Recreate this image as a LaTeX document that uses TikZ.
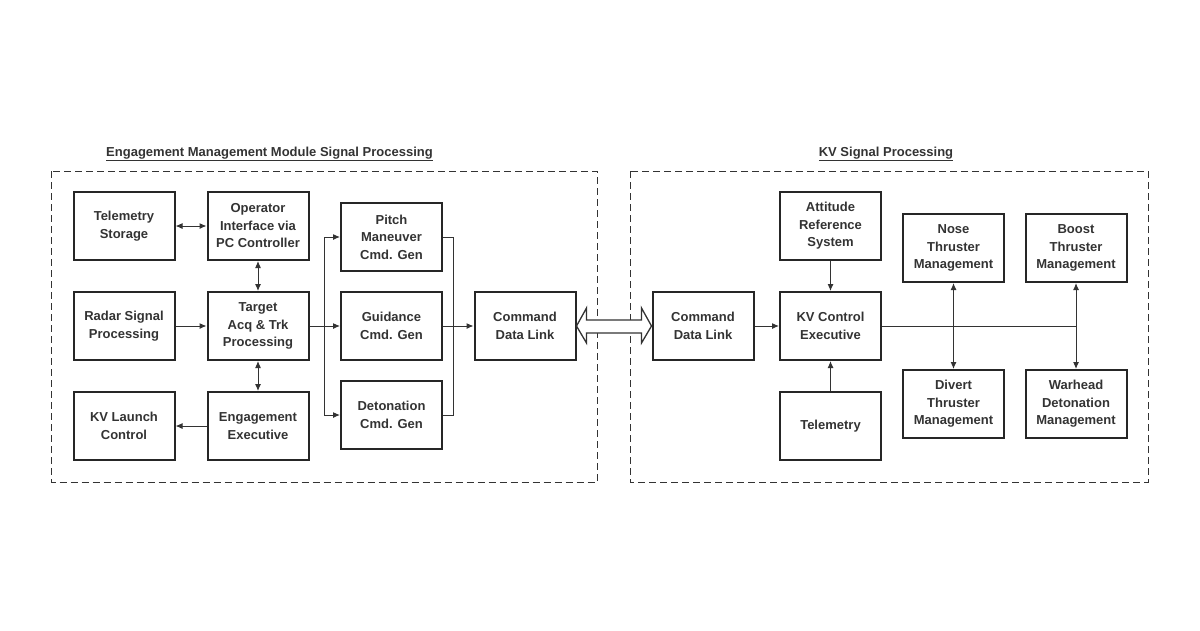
\documentclass[tikz,border=0pt]{standalone}
\usepackage{fontspec}
\setmainfont{Liberation Sans}
\usetikzlibrary{arrows.meta,calc}
\begin{document}
\begin{tikzpicture}[x=1pt,y=-1pt,
  box/.style={draw=black!85,line width=2pt,minimum width=101pt,minimum height=68pt,align=center,font=\fontsize{13}{17.5}\selectfont\bfseries\color{black!80},inner sep=1pt},
  conn/.style={draw=black!80,line width=1pt},
  arr/.style={conn,-{Latex[length=7pt,width=6pt]}},
  darr/.style={conn,{Latex[length=7pt,width=6pt]}-{Latex[length=7pt,width=6pt]}},
  region/.style={draw=black!80,line width=1pt,dash pattern=on 7pt off 4pt},
  ttl/.style={font=\fontsize{13}{15}\selectfont\bfseries\color{black!80}}]
\useasboundingbox (0,0) rectangle (1200,630);
\draw[region] (51.5,171) rectangle (597,482);
\draw[region] (630,171) rectangle (1148,482);
\node[ttl] (t1) at (269.5,154) {\underline{Engagement Management Module Signal Processing}};
\node[ttl] (t2) at (886,154) {\underline{KV Signal Processing}};
% left
\node[box] (tls) at (124,226) {Telemetry\\Storage};
\node[box] (op) at (258,226) {Operator\\Interface via\\PC Controller};
\node[box] (pit) at (391.5,237) {Pitch\\Maneuver\\Cmd. Gen};
\node[box] (rad) at (124,326) {Radar Signal\\Processing};
\node[box] (tgt) at (258,326) {Target\\Acq \& Trk\\Processing};
\node[box] (gui) at (391.5,326) {Guidance\\Cmd. Gen};
\node[box] (cmd) at (525,326) {Command\\Data Link};
\node[box] (kvl) at (124,426) {KV Launch\\Control};
\node[box] (eng) at (258,426) {Engagement\\Executive};
\node[box] (det) at (391.5,415) {Detonation\\Cmd. Gen};
% right
\node[box] (cmd2) at (703,326) {Command\\Data Link};
\node[box] (att) at (830.5,226) {Attitude\\Reference\\System};
\node[box] (kvc) at (830.5,326) {KV Control\\Executive};
\node[box] (tel) at (830.5,426) {Telemetry};
\node[box] (nose) at (953.5,248) {Nose\\Thruster\\Management};
\node[box] (boost) at (1076,248) {Boost\\Thruster\\Management};
\node[box] (div) at (953.5,404) {Divert\\Thruster\\Management};
\node[box] (war) at (1076,404) {Warhead\\Detonation\\Management};
% left connectors
\draw[darr] (tls.east) -- (op.west);
\draw[darr] (op.south) -- (tgt.north);
\draw[darr] (tgt.south) -- (eng.north);
\draw[arr] (rad.east) -- (tgt.west);
\draw[arr] (eng.west) -- (kvl.east);
\coordinate (bx) at (324,326);
\coordinate (mx) at (453,326);
\draw[conn] (tgt.east) -- (bx);
\draw[arr] (bx) |- (pit.west);
\draw[arr] (bx) |- (det.west);
\draw[arr] (bx) -- (gui.west);
\draw[conn] (pit.east) -| (mx);
\draw[conn] (det.east) -| (mx);
\draw[conn] (gui.east) -- (mx);
\draw[arr] (mx) -- (cmd.west);
% double hollow arrow
\draw[draw=black!80,line width=1.3pt,fill=white,line join=miter]
  (cmd.east) -- ($(cmd.east)+(10,-18)$) -- ($(cmd.east)+(10,-6)$)
  -- ($(cmd2.west)+(-10,-6)$) -- ($(cmd2.west)+(-10,-18)$) -- (cmd2.west)
  -- ($(cmd2.west)+(-10,17)$) -- ($(cmd2.west)+(-10,7)$)
  -- ($(cmd.east)+(10,7)$) -- ($(cmd.east)+(10,17)$) -- cycle;
% right connectors
\draw[arr] (cmd2.east) -- (kvc.west);
\draw[arr] (att.south) -- (kvc.north);
\draw[arr] (tel.north) -- (kvc.south);
\coordinate (rx) at (1076,326);
\draw[conn] (kvc.east) -- (rx);
\draw[darr] (nose.south) -- (div.north);
\draw[darr] (boost.south) -- (war.north);
\end{tikzpicture}
\end{document}
